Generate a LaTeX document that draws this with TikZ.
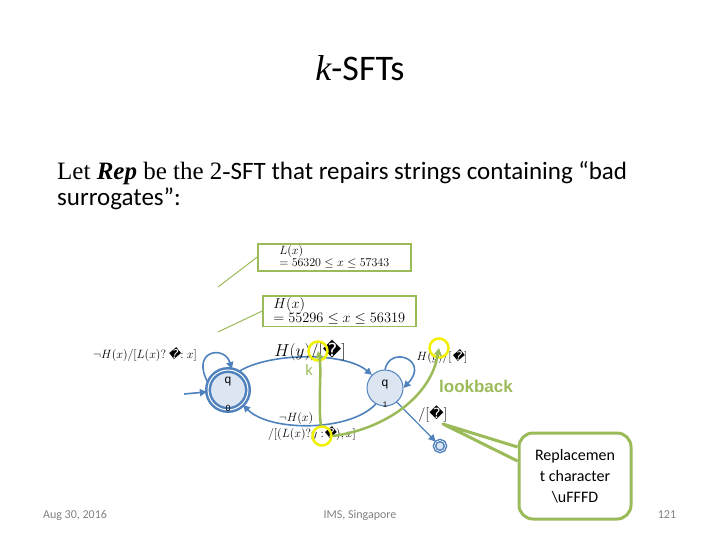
\documentclass[tikz,border=0pt]{standalone}
\usepackage{fontspec}
\setmainfont{Liberation Serif}
\newfontfamily\carl{Carlito}
\newfontfamily\djv{DejaVu Sans}
\newfontfamily\lsans{Liberation Sans}
\usetikzlibrary{arrows.meta}
\definecolor{gr}{HTML}{9BBB59}
\definecolor{bl}{HTML}{4F81BD}
\definecolor{lb}{HTML}{DCE6F2}
\definecolor{yl}{HTML}{F0F000}
\tikzset{
 edge/.style={draw=bl,line width=1.6pt,-{Triangle[length=7pt,width=7pt]}},
 gline/.style={draw=gr,line width=1pt},
 gbox/.style={draw=gr,line width=1.5pt,fill=white,inner sep=2pt,align=left,anchor=north west},
 ycirc/.style={circle,draw=yl,line width=2.5pt,minimum size=19pt,inner sep=0pt},
 foot/.style={font=\carl\fontsize{12}{14}\selectfont,text=gray},
 lab/.style={font=\fontsize{12}{14}\selectfont\itshape,inner sep=0pt}
}
\newcommand{\rc}{{\djv\symbol{"FFFD}}}
\begin{document}
\begin{tikzpicture}[x=1pt,y=-1pt]
\useasboundingbox (0,0) rectangle (720,540);
\node (title) at (360,68) {\fontsize{36}{40}\selectfont\itshape k\upshape\carl -SFTs};
\node[anchor=west,inner sep=0pt] (l1) at (57,173) {\fontsize{25}{28}\selectfont Let \textbf{\textit{Rep}} be the 2-{\carl SFT that repairs strings containing “bad}};
\node[anchor=west,inner sep=0pt] (l2) at (57,199) {\fontsize{25}{28}\selectfont\carl surrogates”:};
% callout boxes
\coordinate (lt1) at (218,287);
\coordinate (lt2) at (218,332);
\node[gbox,minimum width=153pt,minimum height=27pt,font=\fontsize{12}{12}\selectfont] (bl) at (257,243) {$L(x)$\\$= 56320 \le x \le 57343$};
\node[gbox,minimum width=153pt,minimum height=30pt,font=\fontsize{15}{14}\selectfont] (bh) at (262,295) {$H(x)$\\$= 55296 \le x \le 56319$};
\draw[gline] (lt1) -- (bl.west);
\draw[gline] (lt2) -- (bh.west);
% states
\node[circle,draw=bl,line width=2.5pt,fill=lb,minimum size=40pt,inner sep=0pt,double=white,double distance=1pt] (q0) at (228,390) {};
\node[font=\lsans\fontsize{12}{12}\selectfont] (q0l) at (228,382) {q};
\node[font=\lsans\fontsize{9}{9}\selectfont] (q0s) at (228,408) {0};
\node[circle,draw=bl,line width=1pt,fill=lb,minimum size=36pt,inner sep=0pt] (q1) at (385,388) {};
\node[font=\lsans\fontsize{12}{12}\selectfont] (q1l) at (385,385) {q};
\node[font=\lsans\fontsize{8}{8}\selectfont] (q1s) at (385,405) {1};
\node[circle,draw=bl,line width=1.5pt,fill=lb,minimum size=11pt,inner sep=0pt,double=white,double distance=0.6pt] (qf) at (440,446) {};
\coordinate (st) at (184,394);
\draw[edge] (st) -- (q0);
\draw[edge] (q0.60) .. controls (270,352) and (345,352) .. (q1.135);
\draw[edge] (q1.-120) .. controls (350,432) and (270,432) .. (q0.-45);
\draw[edge] (q0.160) .. controls (190,350) and (225,345) .. (q0.80);
\draw[edge] (q1.90) .. controls (390,345) and (430,360) .. (q1.0);
\draw[edge,line width=1.2pt] (q1.-50) -- (qf);
% labels
\node[lab] (a) at (145,355) {$\neg H(x)/[L(x)?$\,\rc$:x]$};
\node[font=\fontsize{18}{18}\selectfont,inner sep=0pt] (b) at (310,350) {$H(y)/[$\rc$]$};
\node[lab] (c) at (442,357) {$H(y)/[$\rc$]$};
\node[lab] (d) at (296,418) {$\neg H(x)$};
\node[lab] (e) at (312,434) {$/[(L(x)?y:$\rc$),x]$};
\node[lab,font=\fontsize{14}{14}\selectfont] (f) at (433,414) {$/[$\rc$]$};
% yellow circles
\node[ycirc] (y1) at (318,351) {};
\node[ycirc] (y2) at (439,348) {};
\node[ycirc] (y3) at (322,436) {};
\draw[draw=gr,line width=2.5pt,-{Triangle[length=7pt,width=7pt]}] (y3) .. controls (318,400) and (322,370) .. (y1.center);
\draw[draw=gr,line width=2.5pt,-{Triangle[length=7pt,width=7pt]}] (y3.east) .. controls (380,430) and (430,400) .. (y2.center);
\node[text=gr,font=\lsans\fontsize{15}{15}\selectfont] (k) at (309,370) {k};
\node[text=gr,font=\lsans\bfseries\fontsize{17}{17}\selectfont] (lb) at (476,386) {lookback};
% replacement callout
\node[draw=gr,line width=3pt,rounded corners=14pt,fill=white,minimum width=112pt,minimum height=86pt,align=center,font=\carl\fontsize{16}{21}\selectfont] (rep) at (575,476) {Replacemen\\t character\\\textbackslash uFFFD};
\coordinate (tip) at (443,424);
\draw[draw=gr,line width=3pt,fill=white,line join=round] ([yshift=29pt]rep.west) -- (tip) -- ([yshift=15pt]rep.west);
% footer
\node[foot] (f1) at (75,515) {Aug 30, 2016};
\node[foot] (f2) at (360,515) {IMS, Singapore};
\node[foot] (f3) at (667,515) {121};
\end{tikzpicture}
\end{document}
